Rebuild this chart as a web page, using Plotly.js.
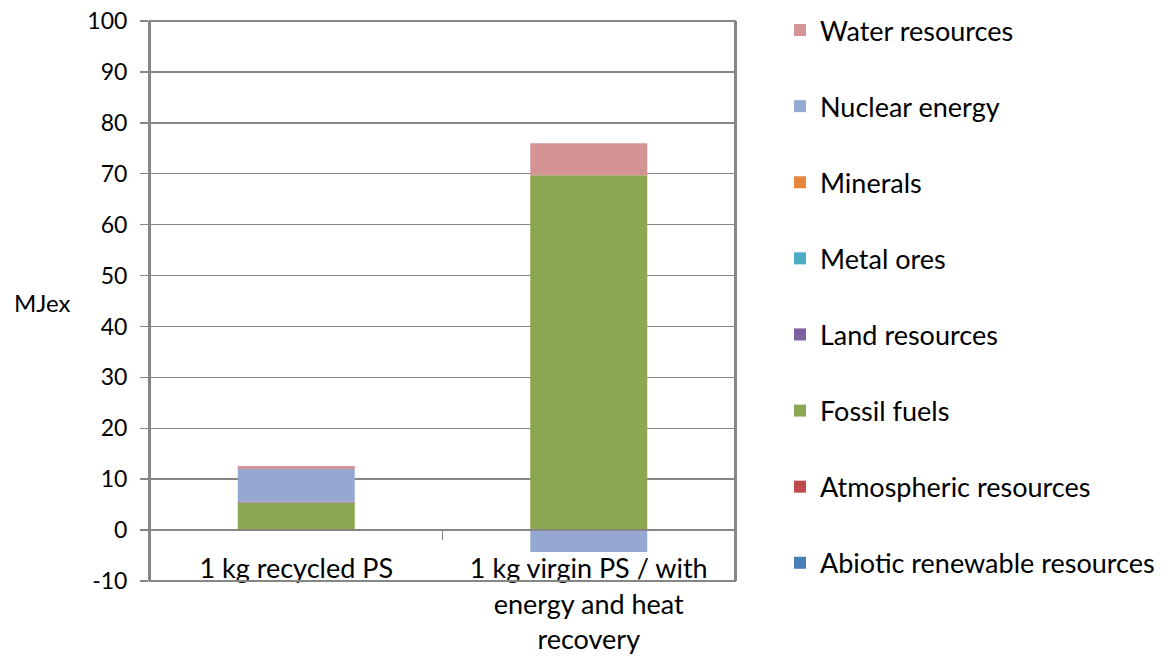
<!DOCTYPE html>
<html>
<head>
<meta charset="utf-8">
<script src="https://cdn.plot.ly/plotly-3.0.1.min.js"></script>
<style>html,body{margin:0;padding:0;background:#fff;}#chart{width:1168px;height:657px;}</style>
</head>
<body>
<div id="chart"></div>
<script>
const categories = ["1 kg recycled PS", "1 kg virgin PS / with<br>energy and heat<br>recovery"];
const seriesNames = ["Abiotic renewable resources", "Atmospheric resources", "Fossil fuels", "Land resources", "Metal ores", "Minerals", "Nuclear energy", "Water resources"];
const abiotic = [0.2, 0];
const atmospheric = [0, 0];
const fossil = [5.2, 69.7];
const land = [0.2, 0];
const metal = [0, 0];
const minerals = [0, 0];
const nuclear = [6.4, -4.3];
const water = [0.6, 6.3];
const seriesValues = [abiotic, atmospheric, fossil, land, metal, minerals, nuclear, water];
const colors = ["#4A7EBB", "#BE4B48", "#8BA752", "#7D60A0", "#4BACC6", "#E8863C", "#95A8D2", "#D49494"];
const yTicks = [-10, 0, 10, 20, 30, 40, 50, 60, 70, 80, 90, 100];
const yTickText = ["-10", "0", "10", "20", "30", "40", "50", "60", "70", "80", "90", "100"];
const yTitle = "MJex";

const FONT = "Lato, 'Open Sans', sans-serif";
const GRAY = "#868686";
const traces = seriesNames.map((n, i) => ({
  type: "bar",
  name: n,
  x: categories,
  y: seriesValues[i],
  marker: {color: colors[i]},
  width: 0.4,
  legendgroup: "g" + i,
  legendrank: seriesNames.length - i,
  hoverinfo: "name+y"
}));

const layout = {
  width: 1168, height: 657,
  margin: {l: 150, r: 433, t: 21, b: 76},
  paper_bgcolor: "#fff", plot_bgcolor: "#fff",
  barmode: "relative",
  font: {family: FONT, size: 27, color: "#000"},
  showlegend: true,
  legend: {
    xref: "container", yref: "container",
    x: 780 / 1168, y: 1 - 6 / 657,
    xanchor: "left", yanchor: "top",
    traceorder: "grouped",
    tracegroupgap: 38,
    maxheight: 657,
    font: {family: FONT, size: 27, color: "#000"},
    bgcolor: "rgba(0,0,0,0)"
  },
  xaxis: {
    type: "category",
    anchor: "free",
    position: 10 / 110,
    showline: true, linecolor: GRAY, linewidth: 2,
    ticks: "outside", tickson: "boundaries", ticklen: 9, tickcolor: GRAY, tickwidth: 1.5,
    showgrid: false,
    ticklabelstandoff: 15,
    tickfont: {family: FONT, size: 27, color: "#000"}
  },
  yaxis: {
    range: [-10, 100],
    tickvals: yTicks,
    ticktext: yTickText,
    ticks: "outside", ticklen: 8, tickcolor: GRAY, tickwidth: 1.5,
    ticklabelstandoff: 8,
    showline: true, mirror: true, linecolor: GRAY, linewidth: 2,
    showgrid: true, gridcolor: GRAY, gridwidth: 1.5,
    zeroline: false,
    tickfont: {family: FONT, size: 23, color: "#000"}
  },
  shapes: [{
    type: "rect", xref: "paper", yref: "paper", x0: 0, x1: 1, y0: 0, y1: 1,
    line: {color: GRAY, width: 2}, layer: "above"
  }],
  annotations: [{
    text: yTitle, xref: "paper", yref: "paper", x: (42 - 150) / 585, xanchor: "center",
    y: 0.498, yanchor: "middle", showarrow: false,
    font: {family: FONT, size: 24, color: "#000"}
  }]
};

Plotly.newPlot("chart", traces, layout, {displayModeBar: false, staticPlot: true});
</script>
</body>
</html>
